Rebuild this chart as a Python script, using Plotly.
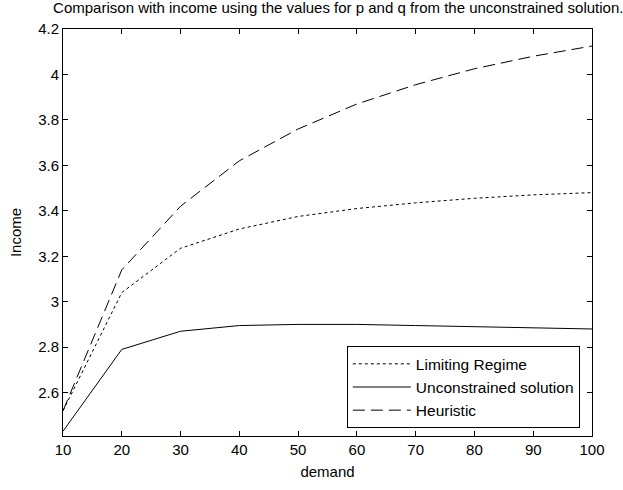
import plotly.graph_objects as go

demand = [10, 20, 30, 40, 50, 60, 70, 80, 90, 100]
limiting_regime = [2.52, 3.04, 3.235, 3.32, 3.375, 3.41, 3.435, 3.455, 3.47, 3.48]
unconstrained = [2.43, 2.79, 2.87, 2.895, 2.9, 2.9, 2.895, 2.89, 2.885, 2.88]
heuristic = [2.52, 3.14, 3.42, 3.62, 3.76, 3.87, 3.955, 4.025, 4.08, 4.125]

x_ticks = [10, 20, 30, 40, 50, 60, 70, 80, 90, 100]
y_ticks = [2.6, 2.8, 3.0, 3.2, 3.4, 3.6, 3.8, 4.0, 4.2]
y_labels = ["2.6", "2.8", "3", "3.2", "3.4", "3.6", "3.8", "4", "4.2"]

FONT = "Liberation Sans, Arial, Helvetica"

fig = go.Figure()
fig.add_trace(go.Scatter(x=demand, y=limiting_regime, mode="lines", name="Limiting Regime",
                         line=dict(color="black", width=1, dash="3px,3px")))
fig.add_trace(go.Scatter(x=demand, y=unconstrained, mode="lines", name="Unconstrained solution",
                         line=dict(color="black", width=1)))
fig.add_trace(go.Scatter(x=demand, y=heuristic, mode="lines", name="Heuristic",
                         line=dict(color="black", width=1, dash="12px,6px")))

axis_common = dict(showgrid=False, zeroline=False, showline=True, linecolor="black", linewidth=1,
                   mirror="ticks", ticks="inside", ticklen=5, tickcolor="black",
                   tickfont=dict(family=FONT, size=15, color="black"))

fig.update_layout(
    width=623, height=490,
    margin=dict(l=63, r=31, t=29, b=49),
    paper_bgcolor="white", plot_bgcolor="white",
    font=dict(family=FONT, size=15, color="black"),
    title=dict(text="Comparison with income using the values for p and q from the unconstrained solution.",
               x=0.543, xanchor="center", y=0.984, yanchor="middle",
               font=dict(size=15, family=FONT, color="black")),
    xaxis=dict(range=[10, 100], tickvals=x_ticks, title=dict(text="demand", standoff=9,
               font=dict(size=15)), **axis_common),
    yaxis=dict(range=[2.409, 4.2], tickvals=y_ticks, ticktext=y_labels,
               title=dict(text="Income", standoff=12, font=dict(size=15)), **axis_common),
    legend=dict(x=0.977, y=0.019, xanchor="right", yanchor="bottom",
                bordercolor="black", borderwidth=1, bgcolor="white",
                font=dict(size=15.5, family=FONT, color="black"),
                itemwidth=58),
    showlegend=True,
)

fig.write_html("out.html")
